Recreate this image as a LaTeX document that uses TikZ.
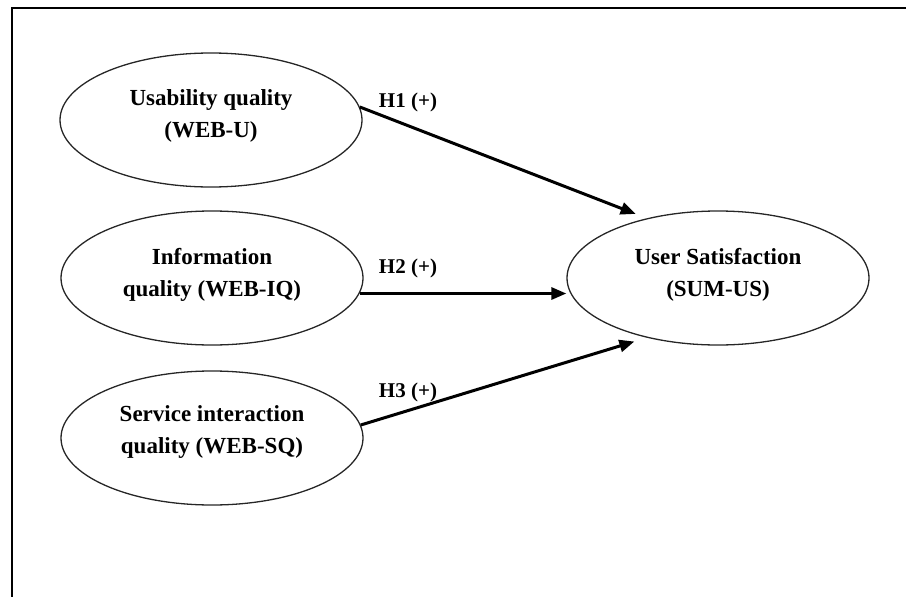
\documentclass[tikz,border=0pt]{standalone}
\usepackage{fontspec}
\setmainfont{Liberation Serif}
\usetikzlibrary{shapes.geometric,arrows.meta}
\begin{document}
\begin{tikzpicture}[x=1pt,y=-1pt,
  construct/.style={ellipse,draw=black!85,line width=1.3pt,minimum width=302pt,minimum height=134pt,inner sep=0pt},
  ctext/.style={align=center,font=\fontsize{23}{32}\selectfont\bfseries,inner sep=0pt},
  hyp/.style={font=\fontsize{21}{25}\selectfont\bfseries,inner sep=0pt},
  path/.style={line width=3pt,-{Triangle[length=15pt,width=12pt]}},
  frameline/.style={line width=2pt}]
\useasboundingbox (0,0) rectangle (906,597);
\coordinate (fl) at (12,597);
\coordinate (ftl) at (12,8);
\coordinate (fr) at (906,8);
\draw[frameline] (fl) -- (ftl) -- (fr);
% constructs
\node[construct] (u) at (211,120) {};
\node[construct] (iq) at (212,278) {};
\node[construct] (sq) at (212,438) {};
\node[construct] (us) at (718,278) {};
\node[ctext] (ut) at (211,116) {Usability quality\\(WEB-U)};
\node[ctext] (iqt) at (212,275) {Information\\quality (WEB-IQ)};
\node[ctext] (sqt) at (212,432) {Service interaction\\quality (WEB-SQ)};
\node[ctext] (ust) at (718,275) {User Satisfaction\\(SUM-US)};
% paths
\draw[path,shorten >=12pt] (u.5) -- (us.140);
\draw[path] (iq.-6) -- (iq.-6 -| us.west);
\draw[path,shorten >=13pt] (sq.5) -- (us.220);
% labels
\node[hyp] (h1) at (408,102) {H1 (+)};
\node[hyp] (h2) at (408,268) {H2 (+)};
\node[hyp] (h3) at (408,392) {H3 (+)};
\end{tikzpicture}
\end{document}
